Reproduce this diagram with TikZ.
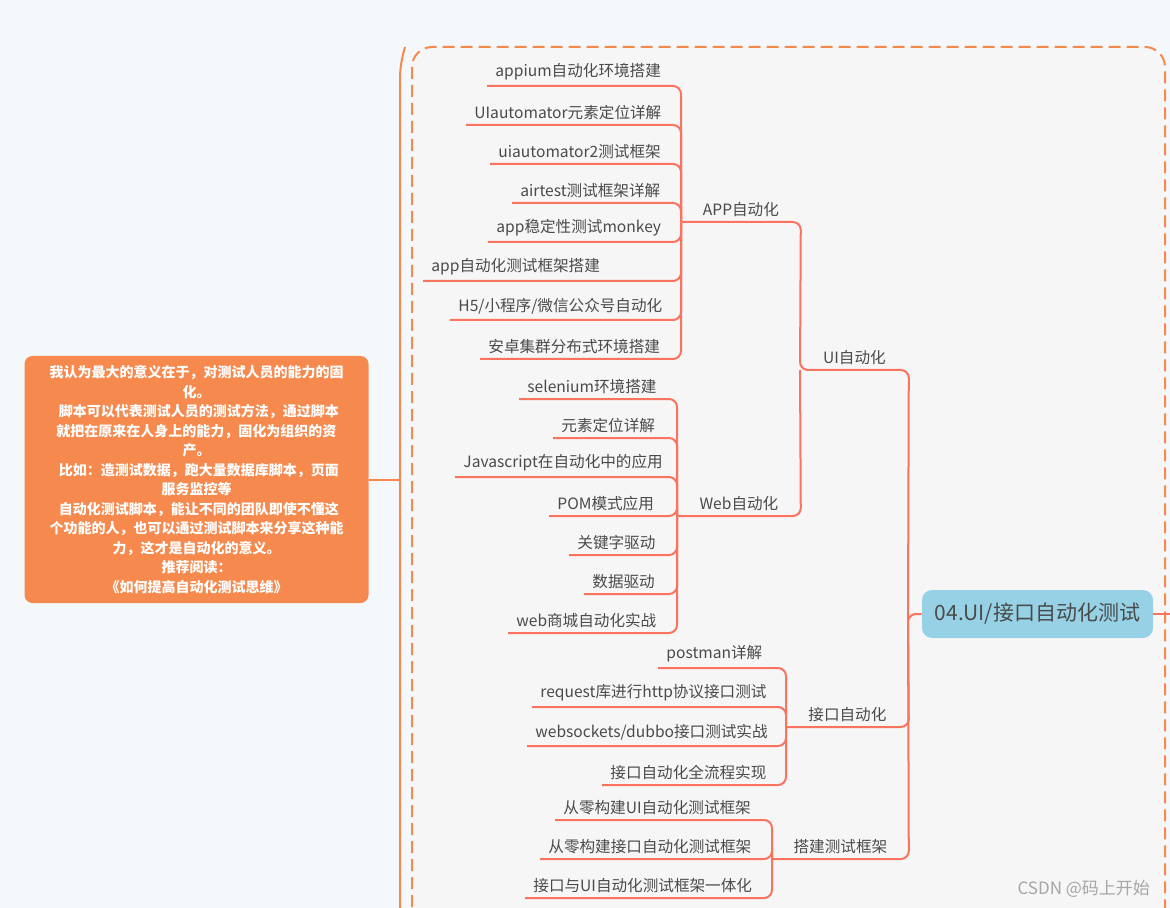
\documentclass[tikz,border=0pt]{standalone}
\usepackage{fontspec}
\setmainfont{Noto Sans CJK SC}
\usetikzlibrary{positioning}
\definecolor{bgc}{HTML}{F4F8FB}
\definecolor{boxc}{HTML}{F6F6F6}
\definecolor{branchc}{HTML}{F9735F}
\definecolor{orangec}{HTML}{F6894D}
\definecolor{rootc}{HTML}{96D1E6}
\definecolor{txtc}{HTML}{4A4A4A}
\begin{document}
\begin{tikzpicture}[x=0.5pt,y=-0.5pt,
  every node/.style={font=\fontsize{7.8}{9}\selectfont,text=txtc},
  leaf/.style={anchor=south west,inner xsep=4pt,inner ysep=2.6pt},
  cat/.style={anchor=south west,inner xsep=0pt,inner ysep=2.6pt,align=center},
  branch/.style={draw=branchc,line width=1pt,rounded corners=4pt},
  root/.style={fill=rootc,rounded corners=5pt,minimum width=115.5pt,minimum height=24pt,font=\fontsize{10.5}{12}\selectfont},
  note/.style={fill=orangec,rounded corners=4pt,text width=166pt,inner xsep=3pt,minimum height=123.5pt,align=center,
    font=\fontsize{7}{9.75}\selectfont\bfseries,text=white}
  ]
  \useasboundingbox (0,0) rectangle (1170,908);
  \fill[bgc] (0,0) rectangle (1170,908);
  \draw[orangec,line width=1pt,dashed,dash pattern=on 6pt off 3pt,fill=boxc,rounded corners=10pt]
    (412,925) -- (412,47) -- (1165,47) -- (1165,925);
  \draw[orangec,line width=1pt] (405,47) to[out=-105,in=90] (400,80) -- (400,910);

  % root and note
  \node[root] (root) at (1037.5,614) {04.UI/接口自动化测试};
  \draw[branch] (root.east) -- (1170,614);
  \node[note] (note) at (196.5,479.5) {我认为最大的意义在于，对测试人员的能力的固\\化。\\
    \ 脚本可以代表测试人员的测试方法，通过脚本\\就把在原来在人身上的能力，固化为组织的资\\产。\\
    \ 比如：造测试数据，跑大量数据库脚本，页面\\服务监控等\\
    \ 自动化测试脚本，能让不同的团队即使不懂这\\个功能的人，也可以通过测试脚本来分享这种能\\力，这才是自动化的意义。\\
    推荐阅读：\\《如何提高自动化测试思维》};
  \coordinate (nt) at (400,479.5);
  \draw[orangec,line width=1pt] (note.east) -- (nt);

  % categories
  \node[cat,minimum width=54pt] (uicat) at (800,370) {UI自动化};
  \node[cat,minimum width=59.5pt] (appcat) at (681,222) {APP自动化};
  \node[cat,minimum width=61.5pt] (webcat) at (677,516) {Web自动化};
  \node[cat,minimum width=61pt] (apicat) at (786,727) {接口自动化};
  \node[cat,minimum width=68pt] (frmcat) at (772,859) {搭建测试框架};
  \coordinate (mainj) at (908,614);
  \draw[branch] (appcat.south west) -- (appcat.south east) -- (uicat.south west) -- (uicat.south east) -- (mainj);
  \draw[branch] (webcat.south west) -- (webcat.south east) -- (uicat.south west);
  \draw[branch] (apicat.south west) -- (apicat.south east) -- (mainj);
  \draw[branch] (frmcat.south west) -- (frmcat.south east) -- (mainj) -- (root.west);

  % leaves
  \foreach \n/\t/\x/\y in {1/appium自动化环境搭建/487/86, 2/UIautomator元素定位详解/466/125,
      3/uiautomator2测试框架/490/164, 4/airtest测试框架详解/512/203, 5/app稳定性测试monkey/488/242,
      6/app自动化测试框架搭建/423/281, 7/{H5/小程序/微信公众号自动化}/450/320, 8/安卓集群分布式环境搭建/480/359}
  {
    \node[leaf] (app\n) at (\x,\y) {\t};
    \draw[branch] (app\n.south west) -| (appcat.south west);
  }
  \foreach \n/\t/\x/\y in {1/selenium环境搭建/519/399, 2/元素定位详解/553/438, 3/Javascript在自动化中的应用/455/477,
      4/POM模式应用/549/516, 5/关键字驱动/569/555, 6/数据驱动/584/594, 7/web商城自动化实战/508/633}
  {
    \node[leaf] (web\n) at (\x,\y) {\t};
    \draw[branch] (web\n.south west) -| (webcat.south west);
  }
  \foreach \n/\t/\x/\y in {1/postman详解/658/668, 2/request库进行http协议接口测试/532/707,
      3/{websockets/dubbo接口测试实战}/527/746, 4/接口自动化全流程实现/602/785}
  {
    \node[leaf] (api\n) at (\x,\y) {\t};
    \draw[branch] (api\n.south west) -| (apicat.south west);
  }
  \foreach \n/\t/\x/\y in {1/从零构建UI自动化测试框架/555/820, 2/从零构建接口自动化测试框架/540/859,
      3/接口与UI自动化测试框架一体化/525/898}
  {
    \node[leaf] (frm\n) at (\x,\y) {\t};
    \draw[branch] (frm\n.south west) -| (frmcat.south west);
  }

  \node[text=gray!70,anchor=east,font=\fontsize{8.5}{10}\selectfont] (mark) at (1157,889) {CSDN @码上开始};
\end{tikzpicture}
\end{document}
